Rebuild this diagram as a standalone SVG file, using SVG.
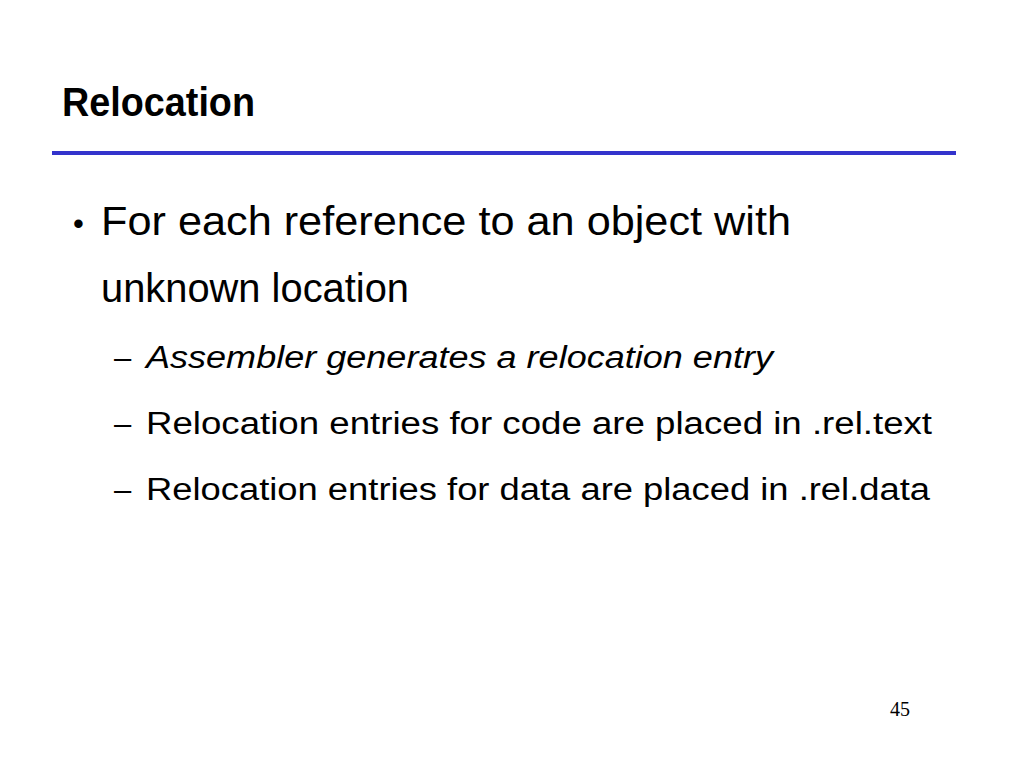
<svg xmlns="http://www.w3.org/2000/svg" width="1024" height="768" viewBox="0 0 1024 768">
<style>
.t{font-family:"Liberation Sans",Arial,sans-serif;fill:#000}
.h{font-size:41px;font-weight:bold}
.b1{font-size:41px}
.b2{font-size:31px}
.it{font-style:italic}
.pg{font-family:"Liberation Serif","Times New Roman",serif;font-size:20px;fill:#000}
</style>
<rect width="1024" height="768" fill="#fff"/>
<text class="t h" x="62" y="116" textLength="193" lengthAdjust="spacingAndGlyphs">Relocation</text>
<rect x="52" y="151" width="904" height="4" fill="#3333cc"/>
<text class="t b2" x="73" y="234">•</text>
<text class="t b1" x="101" y="235" textLength="690" lengthAdjust="spacingAndGlyphs">For each reference to an object with</text>
<text class="t b1" x="101" y="302" textLength="308" lengthAdjust="spacingAndGlyphs">unknown location</text>
<text class="t b2" x="114" y="368">–</text>
<text class="t b2 it" x="146" y="368" textLength="627" lengthAdjust="spacingAndGlyphs">Assembler generates a relocation entry</text>
<text class="t b2" x="114" y="434">–</text>
<text class="t b2" x="146" y="434" textLength="786" lengthAdjust="spacingAndGlyphs">Relocation entries for code are placed in .rel.text</text>
<text class="t b2" x="114" y="500">–</text>
<text class="t b2" x="146" y="500" textLength="784" lengthAdjust="spacingAndGlyphs">Relocation entries for data are placed in .rel.data</text>
<text class="pg" x="890" y="716">45</text>
</svg>
